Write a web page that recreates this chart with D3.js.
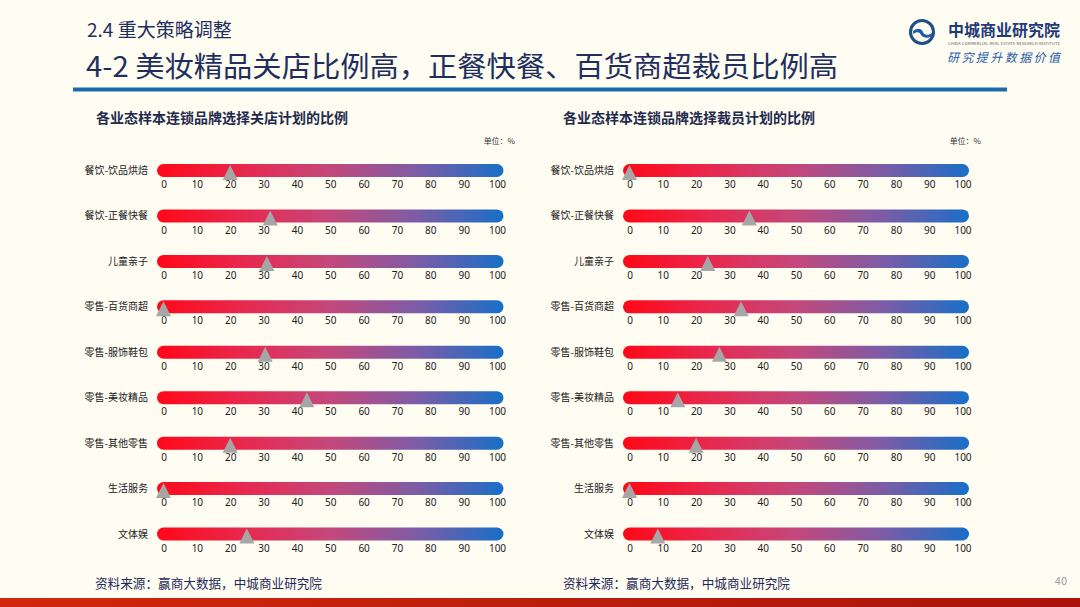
<!DOCTYPE html>
<html><head><meta charset="utf-8">
<script src="https://cdn.jsdelivr.net/npm/d3@7"></script>
<style>
html,body{margin:0;padding:0;background:#FFFCF2;}
svg{display:block;font-family:"Noto Sans CJK SC","Noto Sans",sans-serif;}
</style></head>
<body>
<svg id="c" width="1080" height="607"></svg>
<script>
const categories = ["餐饮-饮品烘焙","餐饮-正餐快餐","儿童亲子","零售-百货商超","零售-服饰鞋包","零售-美妆精品","零售-其他零售","生活服务","文体娱"];
const closeValues = [20, 32, 31, 0, 30.5, 43, 20, 0, 25];
const layoffValues = [0, 36, 23.5, 33.5, 27, 14.5, 20, 0, 8.5];
const tickValues = [0,10,20,30,40,50,60,70,80,90,100];
const panelTitles = ["各业态样本连锁品牌选择关店计划的比例","各业态样本连锁品牌选择裁员计划的比例"];

const svg = d3.select("#c");
const W = 1080, H = 607;
svg.append("rect").attr("width",W).attr("height",H).attr("fill","#FFFCF2");

const defs = svg.append("defs");
const grad = defs.append("linearGradient").attr("id","bg").attr("x1","0%").attr("x2","100%");
[[0,"#FF0818"],[0.25,"#E8284E"],[0.5,"#C4487C"],[0.75,"#7C5CA6"],[1,"#186FC8"]].forEach(s=>
  grad.append("stop").attr("offset",s[0]).attr("stop-color",s[1]));
const rg = defs.append("linearGradient").attr("id","rb").attr("x1","0%").attr("x2","100%");
rg.append("stop").attr("offset",0).attr("stop-color","#D0280C");
rg.append("stop").attr("offset",1).attr("stop-color","#A8140A");

// Header
svg.append("text").attr("x",87).attr("y",37).attr("font-size",19).attr("fill","#1E2F5E").text("2.4  重大策略调整");
svg.append("text").attr("x",86).attr("y",77).attr("font-size",28).attr("font-weight",400).attr("fill","#1E2F5E")
  .attr("textLength",752).attr("lengthAdjust","spacingAndGlyphs")
  .text("4-2  美妆精品关店比例高，正餐快餐、百货商超裁员比例高");
svg.append("rect").attr("x",73).attr("y",87.5).attr("width",934).attr("height",4).attr("fill","#1C6AAE");

// Logo
const lg = svg.append("g").attr("transform","translate(922,32)");
lg.append("circle").attr("r",11.5).attr("fill","none").attr("stroke","#1E4E8C").attr("stroke-width",3);
lg.append("path").attr("d","M-9,-1 C-4,-5 0,-3 1,0 C2,3 6,4 10,1 L10,4 C6,7 1,6 -1,3 C-2,0 -5,-1 -9,2 Z").attr("fill","#1E5FA8");
svg.append("text").attr("x",948).attr("y",36).attr("font-size",16).attr("font-weight",700)
  .attr("font-family","Noto Sans CJK SC").attr("fill","#1E3A78").attr("textLength",112).text("中城商业研究院");
svg.append("text").attr("x",948).attr("y",44.5).attr("font-size",4).attr("fill","#555")
  .attr("textLength",112).text("CHINA COMMERCIAL REAL ESTATE RESEARCH INSTITUTE");
svg.append("text").attr("x",947).attr("y",62).attr("font-size",12).attr("font-style","italic").attr("fill","#2A5CA8")
  .attr("textLength",113).text("研究提升数据价值");

// Panels
const panels = [
  {values: closeValues, x0: 163.5, x1: 497, labelX: 148, titleX: 96, unitX: 515, srcX: 95},
  {values: layoffValues, x0: 629.5, x1: 962.5, labelX: 614, titleX: 563, unitX: 981, srcX: 563}
];
const y = d3.scalePoint().domain(categories).range([170.5, 534]);

panels.forEach((p,pi)=>{
  const g = svg.append("g");
  const x = d3.scaleLinear().domain([0,100]).range([p.x0,p.x1]);
  g.append("text").attr("x",p.titleX).attr("y",123).attr("font-size",14).attr("font-weight",700).attr("fill","#1F2B4E").text(panelTitles[pi]);
  g.append("text").attr("x",p.unitX).attr("y",144).attr("text-anchor","end").attr("font-size",8).attr("fill","#333").text("单位：%");
  categories.forEach((c,i)=>{
    const cy = y(c);
    g.append("text").attr("x",p.labelX).attr("y",cy+3.5).attr("text-anchor","end").attr("font-size",10).attr("fill","#222").text(c);
    g.append("rect").attr("x",x(0)-6.5).attr("y",cy-6.5).attr("width",x(100)-x(0)+13).attr("height",13)
      .attr("rx",6.5).attr("fill","url(#bg)");
    const ax = d3.axisBottom(x).tickValues(tickValues).tickSize(0).tickPadding(0);
    const ag = g.append("g").attr("transform",`translate(0,${cy+10.5})`).call(ax);
    ag.select(".domain").remove();
    ag.selectAll("text").attr("font-size",10).attr("fill","#222").attr("font-family","Noto Sans, sans-serif");
    const v = p.values[i], tx = x(v);
    g.append("path").attr("d",`M${tx},${cy-5.5} L${tx+7.5},${cy+9.5} L${tx-7.5},${cy+9.5} Z`).attr("fill","#A6A6A6");
  });
  g.append("text").attr("x",p.srcX).attr("y",588).attr("font-size",13).attr("fill","#1F2B5A")
    .attr("textLength",227).attr("lengthAdjust","spacingAndGlyphs").text("资料来源：赢商大数据，中城商业研究院");
});

svg.append("text").attr("x",1067).attr("y",585).attr("text-anchor","end").attr("font-size",11).attr("fill","#999").text("40");
svg.append("rect").attr("x",0).attr("y",598).attr("width",W).attr("height",9).attr("fill","url(#rb)");
</script>
</body></html>
